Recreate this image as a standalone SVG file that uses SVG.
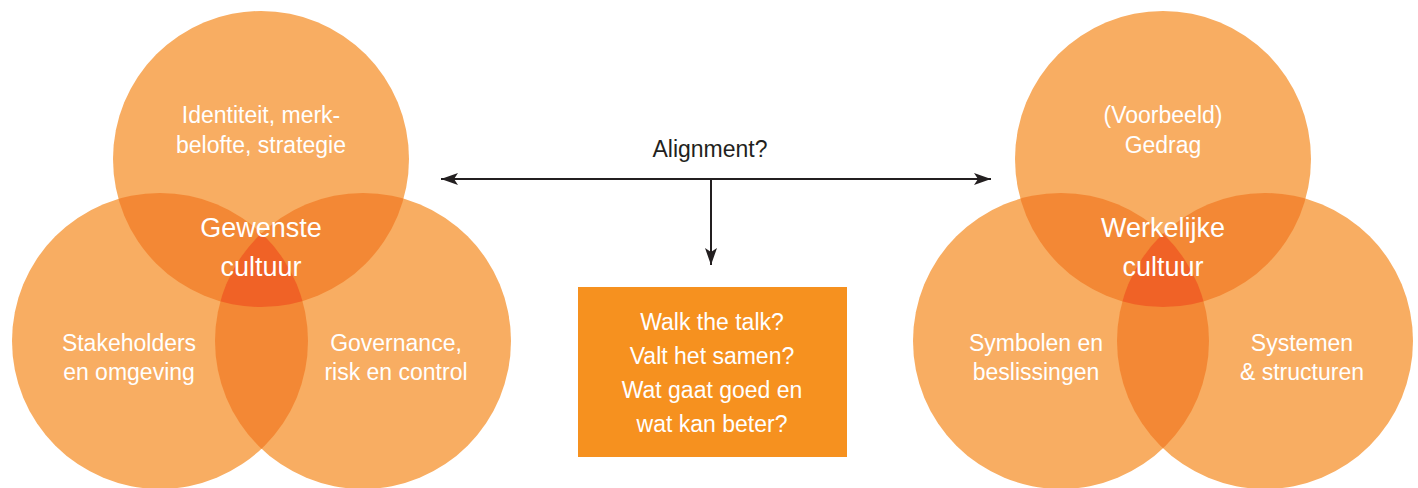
<svg xmlns="http://www.w3.org/2000/svg" width="1418" height="488" viewBox="0 0 1418 488">
<style>
.c{fill:#F8AD62}
.p{fill:#F38835}
.t3{fill:#F06226}
.w{fill:#FFFFFF;font-family:"Liberation Sans",Arial,sans-serif;font-size:23px;text-anchor:middle}
.big{font-size:27px}
.k{fill:#231F20;font-family:"Liberation Sans",Arial,sans-serif;font-size:23px;text-anchor:middle}
.ln{stroke:#231F20;stroke-width:2;fill:none}
</style>
<defs>
<marker id="ah" markerUnits="userSpaceOnUse" markerWidth="18" markerHeight="13" refX="17" refY="6" orient="auto">
<path d="M0,0 L17,6 L0,12 L4,6 z" fill="#231F20"/>
</marker>
<clipPath id="lT"><circle cx="261" cy="159" r="148"/></clipPath>
<clipPath id="lL"><circle cx="160" cy="341" r="148"/></clipPath>
<clipPath id="lR"><circle cx="363" cy="341" r="148"/></clipPath>
<clipPath id="rT"><circle cx="1163" cy="159" r="148"/></clipPath>
<clipPath id="rL"><circle cx="1061" cy="341" r="148"/></clipPath>
<clipPath id="rR"><circle cx="1265" cy="341" r="148"/></clipPath>
</defs>

<g id="left-venn">
<circle class="c" cx="261" cy="159" r="148"/>
<circle class="c" cx="160" cy="341" r="148"/>
<circle class="c" cx="363" cy="341" r="148"/>
<g clip-path="url(#lT)"><circle class="p" cx="160" cy="341" r="148"/><circle class="p" cx="363" cy="341" r="148"/></g>
<g clip-path="url(#lL)"><circle class="p" cx="363" cy="341" r="148"/></g>
<g clip-path="url(#lT)"><g clip-path="url(#lL)"><circle class="t3" cx="363" cy="341" r="148"/></g></g>
</g>
<g id="node-identiteit"><text class="w" x="261" y="123">Identiteit, merk-</text><text class="w" x="261" y="153">belofte, strategie</text></g>
<g id="node-gewenste"><text class="w big" x="261" y="237">Gewenste</text><text class="w big" x="261" y="276">cultuur</text></g>
<g id="node-stakeholders"><text class="w" x="129" y="351">Stakeholders</text><text class="w" x="129" y="380">en omgeving</text></g>
<g id="node-governance"><text class="w" x="396" y="351">Governance,</text><text class="w" x="396" y="380">risk en control</text></g>

<g id="right-venn">
<circle class="c" cx="1163" cy="159" r="148"/>
<circle class="c" cx="1061" cy="341" r="148"/>
<circle class="c" cx="1265" cy="341" r="148"/>
<g clip-path="url(#rT)"><circle class="p" cx="1061" cy="341" r="148"/><circle class="p" cx="1265" cy="341" r="148"/></g>
<g clip-path="url(#rL)"><circle class="p" cx="1265" cy="341" r="148"/></g>
<g clip-path="url(#rT)"><g clip-path="url(#rL)"><circle class="t3" cx="1265" cy="341" r="148"/></g></g>
</g>
<g id="node-voorbeeld"><text class="w" x="1163" y="123">(Voorbeeld)</text><text class="w" x="1163" y="153">Gedrag</text></g>
<g id="node-werkelijke"><text class="w big" x="1163" y="237">Werkelijke</text><text class="w big" x="1163" y="276">cultuur</text></g>
<g id="node-symbolen"><text class="w" x="1036" y="351">Symbolen en</text><text class="w" x="1036" y="380">beslissingen</text></g>
<g id="node-systemen"><text class="w" x="1302" y="351">Systemen</text><text class="w" x="1302" y="380">&amp; structuren</text></g>

<g id="node-box">
<rect x="578" y="287" width="269" height="170" fill="#F6911F"/>
<text class="w" x="712" y="330">Walk the talk?</text>
<text class="w" x="712" y="364">Valt het samen?</text>
<text class="w" x="712" y="398">Wat gaat goed en</text>
<text class="w" x="712" y="432">wat kan beter?</text>
</g>

<g id="connectors">
<line class="ln" x1="711" y1="179" x2="441" y2="179" marker-end="url(#ah)"/>
<line class="ln" x1="711" y1="179" x2="991" y2="179" marker-end="url(#ah)"/>
<line class="ln" x1="711" y1="179" x2="711" y2="265" marker-end="url(#ah)"/>
<text class="k" x="710" y="157">Alignment?</text>
</g>
</svg>
